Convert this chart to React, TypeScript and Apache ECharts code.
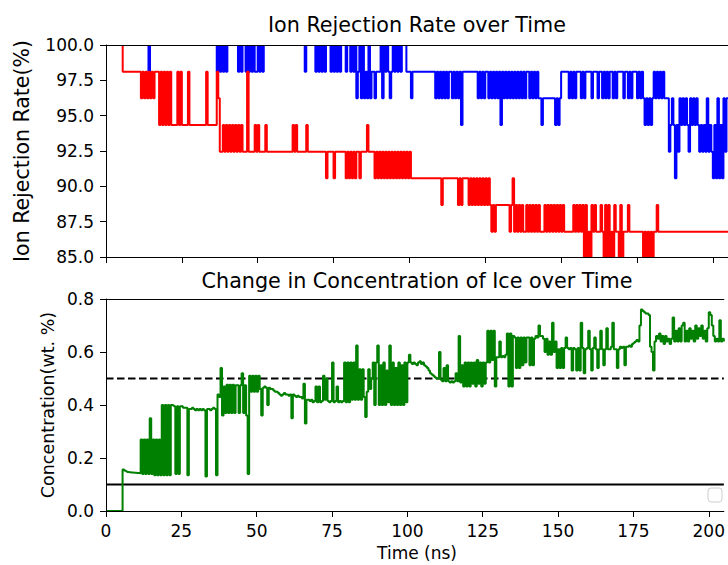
import React, { useEffect, useRef } from "react";
import * as echarts from "echarts";

// ---------------- data ----------------
const TIME_STEP_NS = 0.5; // sample spacing of the series below
const X_MAX = 205;
const X_TICKS = [0, 25, 50, 75, 100, 125, 150, 175, 200];

// discrete ion-rejection levels (%) that the two rate series jump between
const REJECTION_LEVELS = [100, 98.11, 96.23, 94.34, 92.45, 90.57, 88.68, 86.79, 84.91];

// blue series: level index per 0.5 ns sample, one string per 10 ns
const BLUE_CODES = [
  "00000000000000000000",
  "00000000100000000000",
  "00000000000000000000",
  "00000000000001010101",
  "00000001010010101011",
  "01010000000000000000",
  "00000000000100000010",
  "10101000101010100010",
  "01010210202120211211",
  "10201012101010100011",
  "12111111111111111212",
  "12121211212121311111",
  "11111212121121212121",
  "31212121212121212112",
  "12121223222222223232",
  "11111212121112121111",
  "21112112121211212111",
  "12112121112121232323",
  "21212121222432353423",
  "23234232323434342434",
  "53525352422",
];

// red series: level index per 0.5 ns sample, one string per 10 ns
const RED_CODES = [
  "00000000000111111111",
  "11121212121211131313",
  "13133331313333133333",
  "33333313333331244343",
  "43434343434441444434",
  "34444344444444444444",
  "44434344444434444444",
  "44444544445444444454",
  "54545445444434444545",
  "45454545454545454545",
  "45555555555555555555",
  "56555555555565655556",
  "56565656565656767666",
  "66666676576767677676",
  "76767677767676767676",
  "76777777676767686878",
  "67677767868687867786",
  "87776777777777878787",
  "87767777777777777777",
  "77777777777777777777",
  "77777777777",
];

// ice concentration (wt. %) per 0.5 ns sample, one row per 10 ns
const GREEN_VALUES = [
  [0, 0, 0, 0, 0, 0, 0, 0, 0, 0, 0, 0.157, 0.153, 0.15, 0.147, 0.146, 0.145, 0.145, 0.144, 0.144],
  [0.143, 0.143, 0.142, 0.27, 0.14, 0.27, 0.14, 0.27, 0.14, 0.35, 0.14, 0.27, 0.135, 0.27, 0.135, 0.27, 0.135, 0.4, 0.135, 0.4],
  [0.135, 0.4, 0.135, 0.4, 0.398, 0.395, 0.14, 0.395, 0.14, 0.395, 0.395, 0.39, 0.39, 0.39, 0.135, 0.385, 0.385, 0.39, 0.385, 0.38],
  [0.385, 0.38, 0.385, 0.38, 0.385, 0.38, 0.13, 0.385, 0.385, 0.38, 0.385, 0.39, 0.385, 0.135, 0.44, 0.43, 0.54, 0.36, 0.47, 0.37],
  [0.476, 0.37, 0.476, 0.37, 0.476, 0.37, 0.475, 0.475, 0.37, 0.475, 0.52, 0.37, 0.475, 0.36, 0.14, 0.51, 0.45, 0.51, 0.45, 0.51],
  [0.45, 0.51, 0.46, 0.36, 0.465, 0.47, 0.465, 0.4, 0.465, 0.46, 0.46, 0.455, 0.45, 0.45, 0.445, 0.44, 0.435, 0.44, 0.445, 0.44],
  [0.44, 0.435, 0.44, 0.35, 0.44, 0.435, 0.43, 0.435, 0.43, 0.43, 0.425, 0.48, 0.33, 0.42, 0.42, 0.415, 0.42, 0.41, 0.415, 0.47],
  [0.41, 0.47, 0.41, 0.415, 0.51, 0.42, 0.5, 0.415, 0.41, 0.415, 0.56, 0.41, 0.415, 0.47, 0.41, 0.415, 0.41, 0.415, 0.56, 0.41],
  [0.56, 0.41, 0.56, 0.42, 0.56, 0.42, 0.625, 0.42, 0.535, 0.42, 0.535, 0.43, 0.355, 0.45, 0.535, 0.46, 0.5, 0.56, 0.4, 0.56],
  [0.625, 0.4, 0.55, 0.4, 0.56, 0.4, 0.53, 0.41, 0.625, 0.4, 0.56, 0.4, 0.54, 0.4, 0.56, 0.4, 0.55, 0.4, 0.56, 0.41],
  [0.56, 0.59, 0.56, 0.555, 0.56, 0.555, 0.55, 0.56, 0.565, 0.555, 0.56, 0.55, 0.545, 0.54, 0.53, 0.52, 0.515, 0.51, 0.505, 0.5],
  [0.5, 0.6, 0.495, 0.49, 0.54, 0.49, 0.55, 0.49, 0.485, 0.49, 0.485, 0.49, 0.52, 0.49, 0.66, 0.485, 0.55, 0.47, 0.56, 0.47],
  [0.56, 0.47, 0.56, 0.48, 0.56, 0.47, 0.57, 0.48, 0.56, 0.47, 0.56, 0.48, 0.56, 0.68, 0.56, 0.68, 0.57, 0.68, 0.47, 0.58],
  [0.58, 0.64, 0.58, 0.585, 0.58, 0.59, 0.67, 0.47, 0.67, 0.47, 0.66, 0.655, 0.54, 0.655, 0.54, 0.655, 0.55, 0.655, 0.56, 0.655],
  [0.655, 0.55, 0.655, 0.55, 0.65, 0.66, 0.655, 0.7, 0.66, 0.66, 0.65, 0.6, 0.65, 0.59, 0.64, 0.59, 0.71, 0.6, 0.64, 0.54],
  [0.61, 0.54, 0.615, 0.54, 0.615, 0.655, 0.615, 0.61, 0.615, 0.53, 0.615, 0.61, 0.53, 0.615, 0.53, 0.71, 0.615, 0.52, 0.61, 0.615],
  [0.68, 0.61, 0.53, 0.615, 0.655, 0.61, 0.54, 0.61, 0.68, 0.61, 0.55, 0.61, 0.69, 0.61, 0.61, 0.62, 0.71, 0.61, 0.61, 0.54],
  [0.61, 0.62, 0.615, 0.62, 0.55, 0.62, 0.62, 0.625, 0.62, 0.63, 0.635, 0.64, 0.645, 0.64, 0.7, 0.76, 0.755, 0.75, 0.745, 0.745],
  [0.74, 0.62, 0.6, 0.53, 0.64, 0.66, 0.65, 0.67, 0.64, 0.66, 0.63, 0.66, 0.64, 0.65, 0.63, 0.65, 0.73, 0.64, 0.68, 0.64],
  [0.69, 0.64, 0.7, 0.71, 0.64, 0.68, 0.64, 0.69, 0.65, 0.68, 0.64, 0.7, 0.65, 0.69, 0.66, 0.7, 0.65, 0.68, 0.64, 0.69],
  [0.75, 0.74, 0.7, 0.66, 0.64, 0.65, 0.64, 0.72, 0.64, 0.65, 0.64],
];

const THRESHOLD_DASHED = 0.5;
const THRESHOLD_SOLID = 0.1;

// ---------------- helpers ----------------
function levelSeries(codes: string[]): [number, number][] {
  const chars = codes.join("").split("");
  return chars.map((c, i) => [i * TIME_STEP_NS, REJECTION_LEVELS[Number(c)]]);
}
function valueSeries(rows: number[][]): [number, number][] {
  const vals = rows.flat();
  return vals.map((v, i) => [i * TIME_STEP_NS, v]);
}

const FONT = "DejaVu Sans";
const INK = "#000000";
const TICK_FONT = 17;

function xAxes(gridIndex: number, labels: boolean) {
  return [
    {
      gridIndex,
      type: "value",
      min: 0,
      max: X_MAX,
      position: "bottom",
      z: 5,
      axisLine: { show: true, onZero: false, lineStyle: { color: INK, width: 1 } },
      axisTick: { show: true, length: 6, customValues: X_TICKS, lineStyle: { color: INK, width: 1 } },
      axisLabel: {
        show: labels,
        customValues: X_TICKS,
        margin: 11,
        color: INK,
        fontFamily: FONT,
        fontSize: TICK_FONT,
      },
      splitLine: { show: false },
    },
    {
      gridIndex,
      type: "value",
      min: 0,
      max: X_MAX,
      position: "top",
      z: 5,
      axisLine: { show: true, onZero: false, lineStyle: { color: INK, width: 1 } },
      axisTick: { show: false },
      axisLabel: { show: false },
      splitLine: { show: false },
    },
  ];
}

function yAxis(gridIndex: number, min: number, max: number, interval: number) {
  return {
    gridIndex,
    type: "value",
    min,
    max,
    interval,
    z: 5,
    axisLine: { show: true, onZero: false, lineStyle: { color: INK, width: 1 } },
    axisTick: { show: true, length: 6, lineStyle: { color: INK, width: 1 } },
    axisLabel: {
      margin: 12,
      color: INK,
      fontFamily: FONT,
      fontSize: TICK_FONT,
      formatter: (v: number) => v.toFixed(1),
    },
    splitLine: { show: false },
  };
}

function label(text: string, x: number, y: number, size: number, rotated = false) {
  return {
    type: "text",
    x,
    y,
    z: 20,
    rotation: rotated ? Math.PI / 2 : 0,
    style: {
      text,
      fontSize: size,
      fontFamily: FONT,
      fill: INK,
      align: "center",
      verticalAlign: "middle",
      textAlign: "center",
      textVerticalAlign: "middle",
    },
  };
}

export default function App() {
  const ref = useRef<HTMLDivElement>(null);

  useEffect(() => {
    if (!ref.current) return;
    const chart = echarts.init(ref.current, null, { renderer: "svg" });

    const lineBase = { type: "line", showSymbol: false, symbol: "none", silent: true, z: 2 };

    const option: any = {
      animation: false,
      backgroundColor: "#ffffff",
      grid: [
        { left: 106, top: 45, width: 622, height: 212, show: false },
        { left: 106, top: 299, width: 622, height: 212, show: false },
      ],
      xAxis: [...xAxes(0, false), ...xAxes(1, true)],
      yAxis: [yAxis(0, 85, 100, 2.5), yAxis(1, 0, 0.8, 0.2)],
      series: [
        {
          ...lineBase,
          name: "blue",
          xAxisIndex: 0,
          yAxisIndex: 0,
          step: "end",
          data: levelSeries(BLUE_CODES),
          lineStyle: { color: "#0000ff", width: 2 },
        },
        {
          ...lineBase,
          name: "red",
          xAxisIndex: 0,
          yAxisIndex: 0,
          step: "end",
          data: levelSeries(RED_CODES),
          lineStyle: { color: "#ff0000", width: 2 },
        },
        {
          ...lineBase,
          name: "threshold-dashed",
          xAxisIndex: 2,
          yAxisIndex: 1,
          data: [
            [0, THRESHOLD_DASHED],
            [X_MAX, THRESHOLD_DASHED],
          ],
          lineStyle: { color: INK, width: 2, type: [7.5, 3.5] },
        },
        {
          ...lineBase,
          name: "threshold-solid",
          xAxisIndex: 2,
          yAxisIndex: 1,
          data: [
            [0, THRESHOLD_SOLID],
            [X_MAX, THRESHOLD_SOLID],
          ],
          lineStyle: { color: INK, width: 2 },
        },
        {
          ...lineBase,
          name: "concentration",
          xAxisIndex: 2,
          yAxisIndex: 1,
          step: "end",
          data: valueSeries(GREEN_VALUES),
          lineStyle: { color: "#008000", width: 2 },
        },
      ],
      graphic: [
        // masks so that lines lying on the frame of the upper panel are clipped at it
        {
          type: "rect",
          z: 3,
          silent: true,
          shape: { x: 100, y: 38, width: 628, height: 7.5 },
          style: { fill: "#ffffff" },
        },
        {
          type: "rect",
          z: 3,
          silent: true,
          shape: { x: 100, y: 257.4, width: 628, height: 5 },
          style: { fill: "#ffffff" },
        },
        label("Ion Rejection Rate over Time", 417, 25, 20.7),
        label("Change in Concentration of Ice over Time", 417, 281, 20.7),
        label("Time (ns)", 417, 553, 17),
        label("Ion Rejection Rate(%)", 22, 151, 20.5, true),
        label("Concentration(wt. %)", 48, 405, 17.5, true),
        {
          type: "rect",
          z: 10,
          shape: { x: 708, y: 488, width: 14, height: 14, r: 3 },
          style: { fill: "rgba(255,255,255,0.8)", stroke: "#cccccc", lineWidth: 1 },
        },
      ],
    };

    chart.setOption(option);
    return () => chart.dispose();
  }, []);

  return (
    <div
      ref={ref}
      style={{ position: "absolute", left: 0, top: 0, width: 728, height: 565, background: "#fff" }}
    />
  );
}
